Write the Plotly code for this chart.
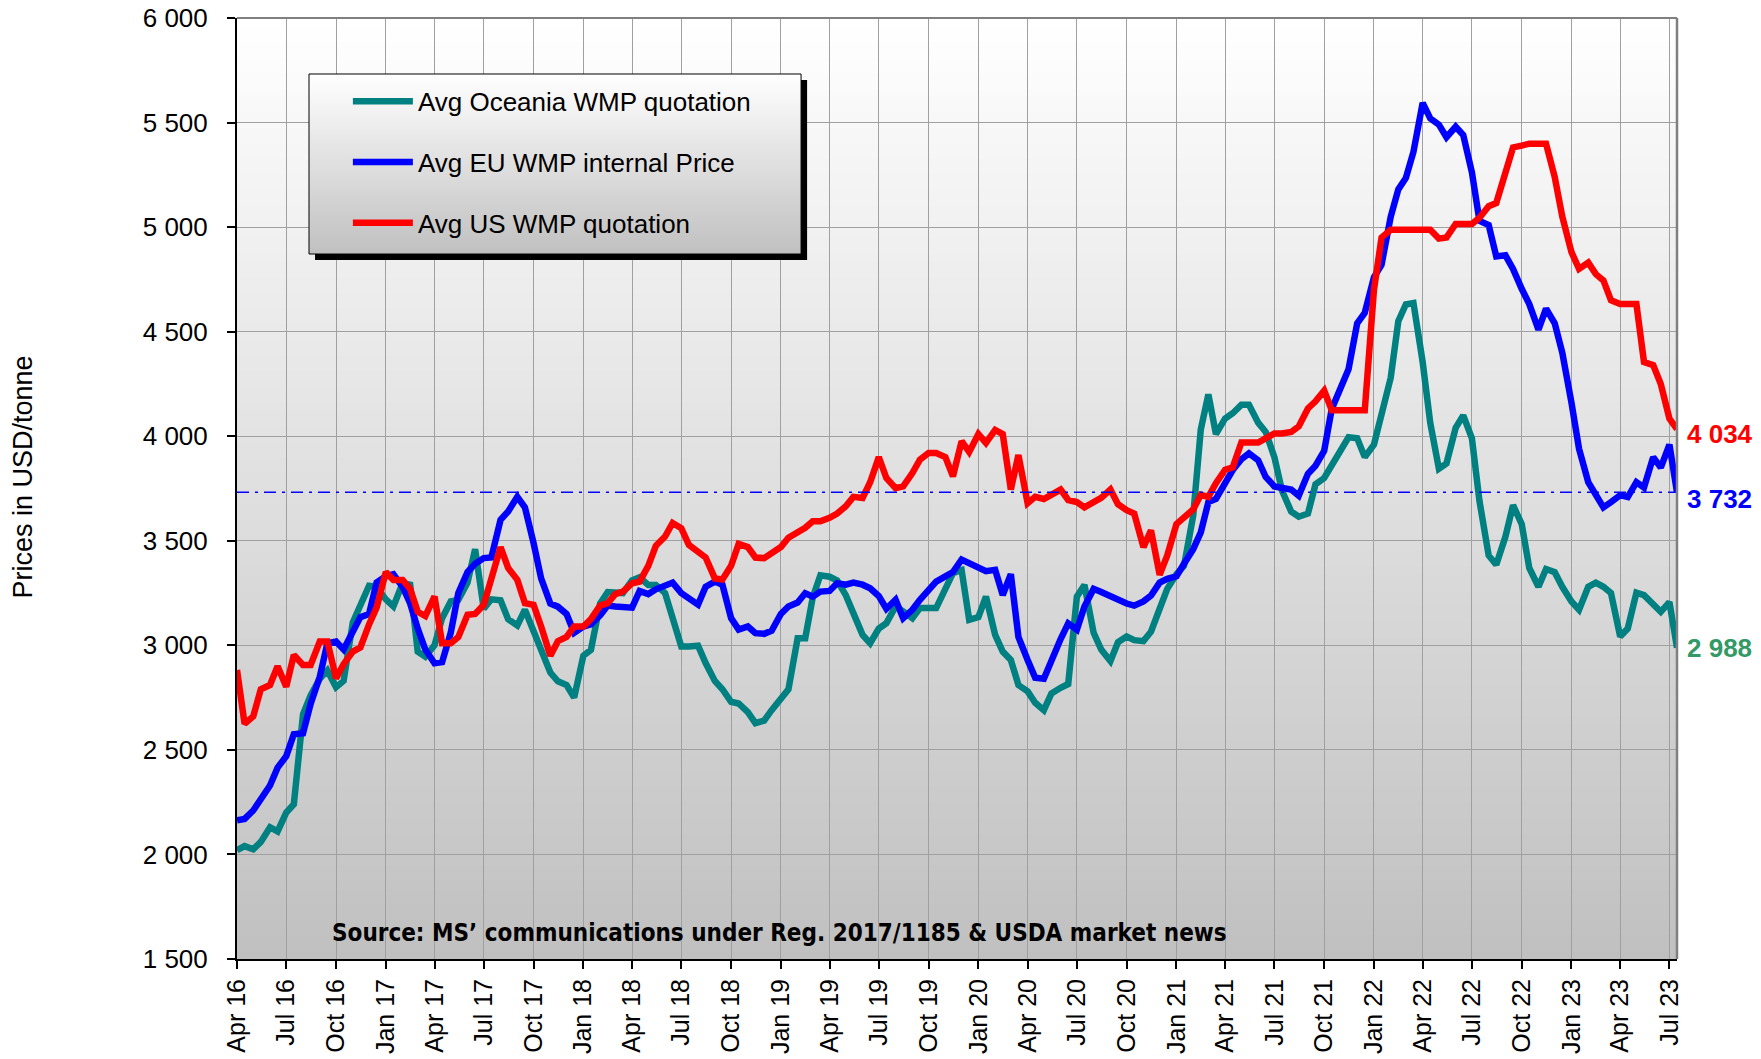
import pandas as pd
import plotly.graph_objects as go

# Semi-monthly observation dates (1st and 15th of each month), Apr 2016 - Jul 2023
dates = pd.date_range("2016-04-01", "2023-07-15", freq="SMS")

oceania = [
    2020, 2040, 2025, 2060, 2130, 2110, 2200, 2240, 2670, 2760,
    2840, 2880, 2800, 2830, 3110, 3190, 3285, 3280, 3220, 3186,
    3297, 3290, 2970, 2946, 3000, 3130, 3210, 3217, 3300, 3460,
    3175, 3220, 3215, 3125, 3095, 3170, 3074, 2990, 2870, 2828,
    2810, 2750, 2950, 2978, 3200, 3255, 3250, 3250, 3310, 3325,
    3289, 3289, 3250, 3130, 2995, 2995, 2998, 2915, 2830, 2790,
    2730, 2722, 2680, 2628, 2640, 2690, 2745, 2790, 3034, 3034,
    3230, 3335, 3328, 3310, 3240, 3160, 3050, 3010, 3080, 3106,
    3186, 3162, 3130, 3178, 3178, 3178, 3270, 3345, 3360, 3122,
    3135, 3233, 3050, 2970, 2930, 2810, 2780, 2725, 2690, 2770,
    2797, 2815, 3233, 3289, 3060, 2980, 2925, 3015, 3042, 3025,
    3020, 3065, 3175, 3270, 3340, 3380, 3620, 4032, 4200, 4010,
    4085, 4110, 4150, 4150, 4065, 4020, 3900, 3740, 3640, 3615,
    3630, 3770, 3800, 3860, 3925, 3995, 3990, 3900, 3960, 4120,
    4280, 4550, 4630, 4637, 4355, 4064, 3845, 3870, 4040, 4100,
    3990, 3690, 3430, 3385, 3520, 3670, 3580, 3370, 3280, 3365,
    3350, 3280, 3210, 3170, 3280, 3300, 3280, 3250, 3042, 3080,
    3252, 3240, 3190, 3160, 3207, 2988,
]

eu = [
    2163, 2170, 2210, 2270, 2330, 2415, 2470, 2575, 2580, 2720,
    2850, 3010, 3018, 2980, 3075, 3135, 3150, 3300, 3330, 3340,
    3280, 3200, 3080, 2980, 2914, 2920, 3060, 3250, 3350, 3390,
    3417, 3420, 3600, 3640, 3710, 3660, 3489, 3320, 3200, 3185,
    3150, 3060, 3090, 3100, 3143, 3190, 3186, 3186, 3180, 3260,
    3245, 3268, 3290, 3300, 3250, 3225, 3195, 3280, 3305, 3290,
    3130, 3075, 3090, 3058, 3055, 3070, 3150, 3186, 3205, 3249,
    3233, 3257, 3260, 3297, 3290, 3300, 3290, 3273, 3235, 3175,
    3218, 3130, 3170, 3218, 3260, 3305, 3330, 3350, 3410, 3395,
    3375, 3355, 3361, 3241, 3340, 3040, 2930, 2845, 2840, 2930,
    3030, 3105, 3075, 3186, 3270, 3255, 3232, 3220, 3200, 3190,
    3210, 3238, 3300, 3318, 3330, 3390, 3460, 3540, 3685, 3700,
    3774, 3838, 3890, 3918, 3885, 3805, 3760, 3750, 3745, 3715,
    3820, 3859, 3930, 4130, 4240, 4320, 4540, 4590, 4760, 4820,
    5050, 5180, 5235, 5360, 5594, 5520, 5490, 5430, 5480, 5440,
    5262, 5030, 5010, 4860, 4865, 4800, 4705, 4632, 4510, 4610,
    4540, 4400, 4160, 3940, 3780, 3715, 3660, 3685, 3718, 3709,
    3780, 3755, 3900, 3850, 3960, 3732,
]

us = [
    2882, 2625, 2660, 2790, 2810, 2900, 2802, 2954, 2906, 2906,
    3018, 3018, 2842, 2910, 2970, 2990, 3100, 3180, 3350, 3313,
    3313, 3270, 3160, 3140, 3234, 3010, 3010, 3040, 3146, 3150,
    3194, 3330, 3470, 3370, 3313, 3202, 3194, 3090, 2950, 3020,
    3040, 3090, 3090, 3125, 3190, 3202, 3245, 3257, 3297, 3305,
    3380, 3476, 3520, 3585, 3560, 3480, 3445, 3420, 3320, 3315,
    3380, 3485, 3470, 3420, 3417, 3445, 3470, 3515, 3537, 3562,
    3593, 3593, 3610, 3630, 3665, 3710, 3705, 3780, 3900, 3800,
    3752, 3760, 3824, 3888, 3920, 3920, 3900, 3808, 3976, 3925,
    4010, 3968, 4030, 4010, 3745, 3910, 3680, 3710, 3700, 3720,
    3745, 3695, 3685, 3660, 3689, 3705, 3745, 3675, 3646, 3630,
    3470, 3550, 3337, 3430, 3580, 3610, 3650, 3720, 3710, 3775,
    3840, 3851, 3970, 3970, 3970, 3990, 4013, 4013, 4020, 4047,
    4133, 4167, 4218, 4124, 4124, 4124, 4124, 4124, 4700, 4950,
    4987, 4987, 4987, 4987, 4987, 4987, 4945, 4950, 5015, 5015,
    5015, 5045, 5100, 5115, 5250, 5381, 5390, 5399, 5399, 5399,
    5240, 5050, 4880, 4800, 4830, 4775, 4745, 4650, 4632, 4632,
    4632, 4355, 4340, 4250, 4084, 4034,
]

series_names = ["Avg Oceania WMP quotation", "Avg EU WMP internal Price", "Avg US WMP quotation"]

x_tick_dates = [
    "2016-04-01", "2016-07-01", "2016-10-01", "2017-01-01", "2017-04-01", "2017-07-01",
    "2017-10-01", "2018-01-01", "2018-04-01", "2018-07-01", "2018-10-01", "2019-01-01",
    "2019-04-01", "2019-07-01", "2019-10-01", "2020-01-01", "2020-04-01", "2020-07-01",
    "2020-10-01", "2021-01-01", "2021-04-01", "2021-07-01", "2021-10-01", "2022-01-01",
    "2022-04-01", "2022-07-01", "2022-10-01", "2023-01-01", "2023-04-01", "2023-07-01",
]
x_tick_labels = [
    "Apr 16", "Jul 16", "Oct 16", "Jan 17", "Apr 17", "Jul 17",
    "Oct 17", "Jan 18", "Apr 18", "Jul 18", "Oct 18", "Jan 19",
    "Apr 19", "Jul 19", "Oct 19", "Jan 20", "Apr 20", "Jul 20",
    "Oct 20", "Jan 21", "Apr 21", "Jul 21", "Oct 21", "Jan 22",
    "Apr 22", "Jul 22", "Oct 22", "Jan 23", "Apr 23", "Jul 23",
]
y_tick_vals = [1500, 2000, 2500, 3000, 3500, 4000, 4500, 5000, 5500, 6000]
y_tick_labels = ["1 500", "2 000", "2 500", "3 000", "3 500", "4 000", "4 500", "5 000", "5 500", "6 000"]

FONT = "Liberation Sans, Arial, sans-serif"
colors = ["#008080", "#0000FF", "#FF0000"]
label_colors = ["#339966", "#0000FF", "#FF0000"]

fig = go.Figure()
for i, (name, vals) in enumerate(zip(series_names, [oceania, eu, us])):
    fig.add_trace(go.Scatter(
        x=dates, y=vals, mode="lines", name=name,
        line=dict(color=colors[i], width=6.5),
        legendgroup=f"g{i}",
    ))

shapes = []
# gradient plot background
N = 120
for j in range(N):
    y0 = j / N
    y1 = (j + 1) / N
    t = (y0 + y1) / 2
    c = int(round(192 + (255 - 192) * t))
    shapes.append(dict(type="rect", xref="x domain", yref="y domain", x0=0, x1=1, y0=y0, y1=min(1, y1 + 0.002),
                       fillcolor=f"rgb({c},{c},{c})", line=dict(width=0), layer="below"))

# reference line at the latest EU value
shapes.append(dict(type="line", xref="x domain", yref="y", x0=0, x1=1, y0=eu[-1], y1=eu[-1],
                   line=dict(color="#0000FF", width=1.5, dash="12px,6px,3px,6px"), layer="above"))

# top / right border of plot area
shapes.append(dict(type="line", xref="x domain", yref="y domain", x0=0, x1=1, y0=1, y1=1,
                   line=dict(color="#808080", width=2), layer="above"))
shapes.append(dict(type="line", xref="x domain", yref="y domain", x0=1, x1=1, y0=0, y1=1,
                   line=dict(color="#808080", width=2.5), layer="above"))

# legend box: shadow, gradient fill, border
lx0, lx1, ly0, ly1 = 0.050, 0.3917, 0.7492, 0.9405
shapes.append(dict(type="rect", xref="paper", yref="paper", x0=lx0 + 0.0042, x1=lx1 + 0.0042,
                   y0=ly0 - 0.0064, y1=ly1 - 0.0064, fillcolor="black", line=dict(width=0), layer="above"))
M = 60
for j in range(M):
    t = (j + 0.5) / M
    c = int(round(192 + (255 - 192) * t))
    shapes.append(dict(type="rect", xref="paper", yref="paper", x0=lx0, x1=lx1,
                       y0=ly0 + (ly1 - ly0) * j / M, y1=min(ly1, ly0 + (ly1 - ly0) * (j + 1) / M + 0.001),
                       fillcolor=f"rgb({c},{c},{c})", line=dict(width=0), layer="above"))
shapes.append(dict(type="rect", xref="paper", yref="paper", x0=lx0, x1=lx1, y0=ly0, y1=ly1,
                   fillcolor="rgba(0,0,0,0)", line=dict(color="black", width=1), layer="above"))

annotations = []
# end value labels
end_vals = [oceania[-1], eu[-1], us[-1]]
yshifts = [0, -7, -5]
for v, col, ys in zip(end_vals, label_colors, yshifts):
    annotations.append(dict(x=1, xref="paper", y=v, yref="y", xanchor="left", yanchor="middle",
                            xshift=8, yshift=ys, showarrow=False,
                            text=f"<b>{v:,}</b>".replace(",", " "),
                            font=dict(family=FONT, size=26, color=col)))
# source note
annotations.append(dict(x=0.377, xref="paper", y=0.0276, yref="paper", xanchor="center", yanchor="middle",
                        showarrow=False,
                        text="<b>Source: MS\u2019 communications under Reg. 2017/1185 &amp; USDA market news</b>",
                        font=dict(family="Liberation Sans Narrow, DejaVu Sans Condensed, sans-serif", size=24, color="black")))
# y axis title
annotations.append(dict(x=0, xref="paper", y=0.5, yref="paper", xanchor="center", yanchor="middle",
                        xshift=-215, yshift=11, textangle=-90, showarrow=False,
                        text="Prices in USD/tonne", font=dict(family=FONT, size=27, color="black")))

fig.update_layout(
    width=1761, height=1059,
    margin=dict(l=237, r=84, t=18, b=100, autoexpand=False),
    paper_bgcolor="white", plot_bgcolor="white",
    font=dict(family=FONT, color="black"),
    shapes=shapes, annotations=annotations,
    showlegend=True,
    legend=dict(x=0.077, y=0.9365, xanchor="left", yanchor="top", bgcolor="rgba(0,0,0,0)",
                borderwidth=0, font=dict(family=FONT, size=26, color="black"),
                traceorder="grouped", tracegroupgap=24, itemwidth=60),
    xaxis=dict(type="date", range=[dates[0], dates[-1]], tickvals=x_tick_dates, ticktext=x_tick_labels,
               tickangle=-90, tickfont=dict(family=FONT, size=25, color="black"),
               showgrid=True, gridcolor="#a0a0a0", gridwidth=1, automargin=False,
               showline=True, linecolor="black", linewidth=2,
               ticks="outside", ticklen=8, tickcolor="black", tickwidth=1.5, zeroline=False),
    yaxis=dict(range=[1500, 6000], tickvals=y_tick_vals, ticktext=y_tick_labels,
               tickfont=dict(family=FONT, size=26, color="black"),
               showgrid=True, gridcolor="#a0a0a0", gridwidth=1, automargin=False,
               showline=True, linecolor="black", linewidth=2, ticklabelstandoff=14,
               ticklabeloverflow="allow",
               ticks="outside", ticklen=8, tickcolor="black", tickwidth=1.5, zeroline=False),
)

# remove the default 8px page margin so the figure fills the window exactly
fig.write_html("out.html", config={"displayModeBar": False},
               post_script="document.body.style.margin='0';")
